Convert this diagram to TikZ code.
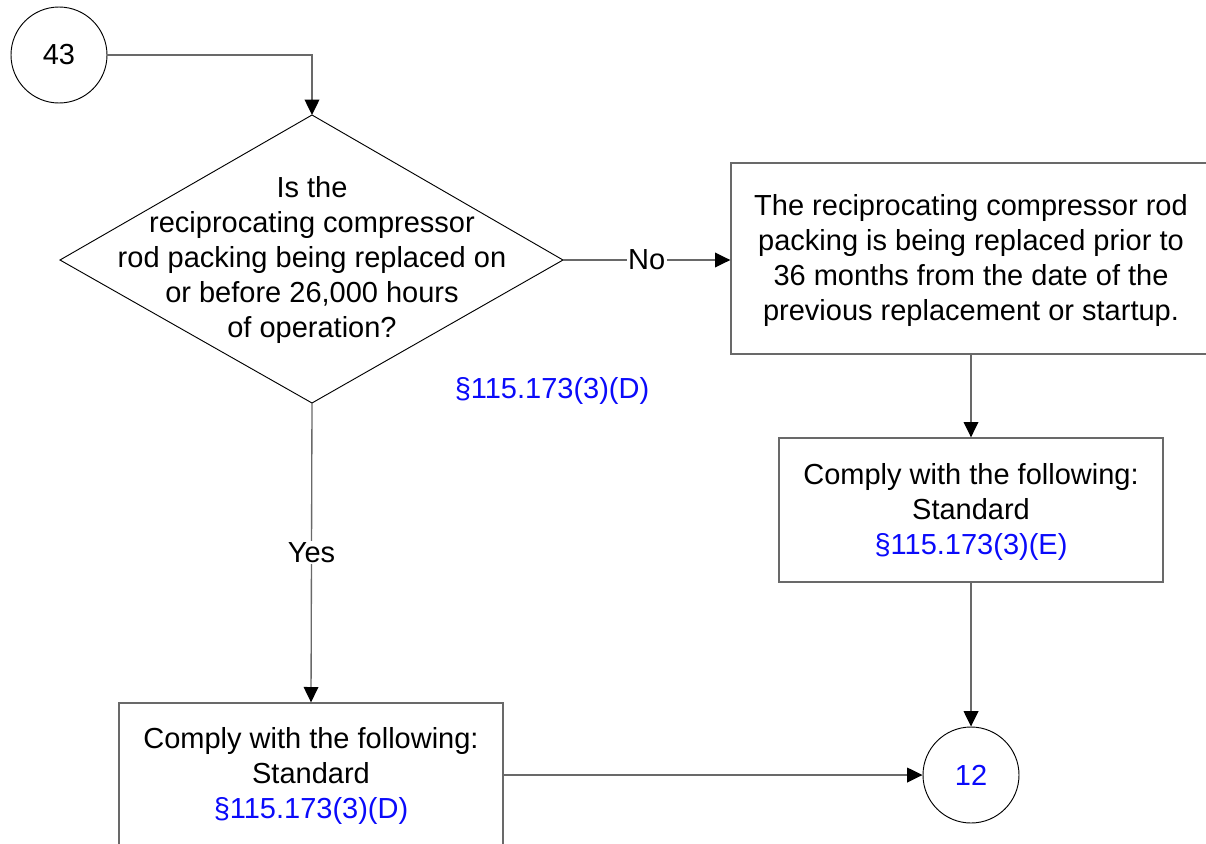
\documentclass[tikz,border=0pt]{standalone}
\usepackage{fontspec}
\setmainfont{Liberation Sans}
\usetikzlibrary{arrows.meta}
\definecolor{linegray}{RGB}{105,105,105}
\definecolor{refblue}{RGB}{10,10,250}
\begin{document}
\begin{tikzpicture}[x=0.75pt,y=-0.75pt,
  every node/.style={font=\fontsize{21.75pt}{26.25pt}\selectfont, inner sep=0pt},
  conn/.style={draw=linegray, line width=1pt, -{Triangle[length=11.5pt,width=11pt,color=black]}},
  boxn/.style={draw=linegray, line width=1pt, align=center, rectangle},
  circn/.style={draw=black, line width=0.7pt, circle, minimum size=72pt},
  lbl/.style={fill=white, inner sep=1pt},
  ref/.style={text=refblue}]
\useasboundingbox (0,0) rectangle (1206,843);
% connector node 43
\node[circn] (c43) at (59,55) {43};
% diamond
\coordinate (dT) at (312,115);
\coordinate (dR) at (563,260);
\coordinate (dB) at (312,403);
\coordinate (dL) at (60,260);
\draw[black, line width=0.7pt] (dT) -- (dR) -- (dB) -- (dL) -- cycle;
\node[align=center] (dq) at (312,259.5) {Is the\\reciprocating compressor\\rod packing being replaced on\\or before 26,000 hours\\of operation?};
\node[ref] (r1) at (552,391) {§115.173(3)(D)};
% boxes
\node[boxn, minimum width=360pt, minimum height=143.25pt] (b1) at (971,258.5) {};
\node[align=center] (t1) at (971,260)
  {The reciprocating compressor rod\\packing is being replaced prior to\\36 months from the date of the\\previous replacement or startup.};
\node[boxn, minimum width=288pt, minimum height=108pt] (b2) at (971,510) {};
\node[align=center] (t2) at (971,512)
  {Comply with the following:\\Standard\\\textcolor{refblue}{§115.173(3)(E)}};
\node[boxn, minimum width=288pt, minimum height=108pt] (b3) at (311,775) {};
\node[align=center] (t3) at (311,776)
  {Comply with the following:\\Standard\\\textcolor{refblue}{§115.173(3)(D)}};
\node[circn, ref] (c12) at (971,775) {12};
% connectors
\coordinate (k1) at (312,55);
\draw[conn] (c43.east) -- (k1) -- (dT);
\draw[conn] (dR) -- node[lbl] (no) {No} (b1.west |- dR);
\draw[conn] (dB) -- node[lbl] (yes) {Yes} (b3.north);
\draw[conn] (b1.south) -- (b2.north);
\draw[conn] (b2.south) -- (c12.north);
\draw[conn] (b3.east) -- (c12.west);
\end{tikzpicture}
\end{document}
